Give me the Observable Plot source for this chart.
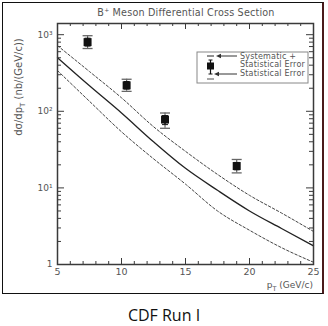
<!DOCTYPE html>
<html>
<head>
<meta charset="utf-8">
<script src="https://cdn.jsdelivr.net/npm/d3@7"></script>
<script src="https://cdn.jsdelivr.net/npm/@observablehq/plot@0.6"></script>
<style>
  html, body { margin: 0; padding: 0; background: #fff; }
  #wrap { position: relative; width: 328px; height: 326px; overflow: hidden; }
  #border { position: absolute; left: 2px; top: 2px; width: 319px; height: 290px;
            border: 1.5px solid #111; border-right: 2px solid #4a1a1a; pointer-events: none; }
  #caption { position: absolute; left: 0; top: 304px; width: 328px; text-align: center;
             font-family: "Open Sans", sans-serif; font-size: 16px; color: #111; }
  svg { position: absolute; left: 0; top: 0; }
</style>
</head>
<body>
<div id="wrap">
  <div id="chart"></div>
  <div id="border"></div>
  <div id="caption">CDF Run I</div>
</div>
<script>
// ---- data ----
const pT      = [7.35, 10.4, 13.4, 19.0];
const xsec    = [800, 218, 78, 19.3];
const sysHi   = [970, 262, 95, 23.5];
const sysLo   = [660, 182, 60, 15.7];
const statHi  = [900, 245, 88, 21.5];
const statLo  = [710, 195, 67, 17.2];

const curvePt = [5, 7.5, 10, 12.5, 15, 17.5, 20, 22.5, 25];
const central = [500, 215, 95, 40, 18, 9.3, 5, 2.95, 1.75];
const upper   = [720, 330, 150, 63, 30, 15, 8, 4.7, 2.7];
const lower   = [340, 135, 54, 24, 11.2, 5, 2.8, 1.66, 1.07];

const xMajor = [5, 10, 15, 20, 25];
const xMinor = [6,7,8,9,11,12,13,14,16,17,18,19,21,22,23,24];
const yMajor = [1, 10, 100, 1000];
const yTickLabels = ["1", "10\u00b9", "10\u00b2", "10\u00b3"];
const yMinor = [2,3,4,5,6,7,8,9,20,30,40,50,60,70,80,90,200,300,400,500,600,700,800,900];

// ---- build tables ----
const points = pT.map((p, i) => ({pt: p, v: xsec[i], sh: sysHi[i], sl: sysLo[i], th: statHi[i], tl: statLo[i]}));
const curves = [];
curvePt.forEach((p, i) => {
  curves.push({pt: p, v: central[i], k: "central"});
  curves.push({pt: p, v: upper[i], k: "upper"});
  curves.push({pt: p, v: lower[i], k: "lower"});
});

const W = 328, H = 296;
const mL = 57, mR = 15, mT = 23, mB = 32;
const fW = W - mL - mR, fH = H - mT - mB;
const ink = "#3a3a3a", txt = "#555";

const capSym = (w) => ({ draw(ctx, size) { ctx.moveTo(-w, 0); ctx.lineTo(w, 0); } });

const plot = Plot.plot({
  width: W, height: H,
  marginLeft: mL, marginRight: mR, marginTop: mT, marginBottom: mB,
  x: {type: "linear", domain: [5, 25], axis: null},
  y: {type: "log", domain: [1, 1400], axis: null},
  style: {fontFamily: "DejaVu Sans, sans-serif", background: "transparent"},
  marks: [
    // ticks inward on all sides
    Plot.ruleX(xMajor, {x: d => d, insetTop: fH - 6, stroke: ink, strokeWidth: 1}),
    Plot.ruleX(xMinor, {x: d => d, insetTop: fH - 3, stroke: ink, strokeWidth: 1}),
    Plot.ruleX(xMajor, {x: d => d, insetBottom: fH - 6, stroke: ink, strokeWidth: 1}),
    Plot.ruleX(xMinor, {x: d => d, insetBottom: fH - 3, stroke: ink, strokeWidth: 1}),
    Plot.ruleY(yMajor, {y: d => d, insetRight: fW - 7, stroke: ink, strokeWidth: 1}),
    Plot.ruleY(yMinor, {y: d => d, insetRight: fW - 4, stroke: ink, strokeWidth: 1}),
    Plot.ruleY(yMajor, {y: d => d, insetLeft: fW - 7, stroke: ink, strokeWidth: 1}),
    Plot.ruleY(yMinor, {y: d => d, insetLeft: fW - 4, stroke: ink, strokeWidth: 1}),
    // tick labels
    Plot.text(xMajor, {x: d => d, frameAnchor: "bottom", dy: 10, text: d => String(d),
      fill: txt, fontSize: 9.5}),
    Plot.text(yMajor, {y: d => d, frameAnchor: "left", dx: -5, textAnchor: "end",
      text: (d, i) => yTickLabels[i], fill: txt, fontSize: 9}),
    // theory curves
    Plot.line(curves.filter(d => d.k !== "central"), {x: "pt", y: "v", z: "k", curve: "monotone-x",
      stroke: "#444", strokeWidth: 1, strokeDasharray: "2.5,2"}),
    Plot.line(curves.filter(d => d.k === "central"), {x: "pt", y: "v", curve: "monotone-x",
      stroke: "#222", strokeWidth: 1.3}),
    // data: error bars
    Plot.ruleX(points, {x: "pt", y1: "sl", y2: "sh", stroke: "#666", strokeWidth: 1.2}),
    Plot.dot(points, {x: "pt", y: "sh", symbol: capSym(5), r: 5, stroke: "#666", strokeWidth: 1.3, fill: "none"}),
    Plot.dot(points, {x: "pt", y: "sl", symbol: capSym(5), r: 5, stroke: "#666", strokeWidth: 1.3, fill: "none"}),
    Plot.ruleX(points, {x: "pt", y1: "tl", y2: "th", stroke: "#111", strokeWidth: 1.3}),
    Plot.dot(points, {x: "pt", y: "th", symbol: capSym(3), r: 3, stroke: "#111", strokeWidth: 1, fill: "none"}),
    Plot.dot(points, {x: "pt", y: "tl", symbol: capSym(3), r: 3, stroke: "#111", strokeWidth: 1, fill: "none"}),
    Plot.dot(points, {x: "pt", y: "v", symbol: "square", r: 4.5, fill: "#111", stroke: "none"}),
    Plot.frame({stroke: ink, strokeWidth: 1.5})
  ]
});
document.getElementById("chart").appendChild(plot);

// ---- annotations (title, axis titles, legend) ----
const svg = d3.select(plot);
const ff = "DejaVu Sans, sans-serif";

const title = svg.append("text").attr("x", mL + fW / 2 + 1).attr("y", 16)
  .attr("text-anchor", "middle").attr("font-family", ff).attr("font-size", 9.6)
  .attr("letter-spacing", 0.2).attr("fill", txt);
title.append("tspan").text("B");
title.append("tspan").attr("font-size", 6).attr("dy", -4).text("+");
title.append("tspan").attr("dy", 4).text(" Meson Differential Cross Section");

const xl = svg.append("text").attr("x", mL + fW).attr("y", H - 8)
  .attr("text-anchor", "end").attr("font-family", ff).attr("font-size", 9).attr("fill", txt);
xl.append("tspan").text("p");
xl.append("tspan").attr("font-size", 6.5).attr("dy", 3).text("T");
xl.append("tspan").attr("dy", -3).text(" (GeV/c)");

const yl = svg.append("text").attr("transform", "translate(22,87) rotate(-90)")
  .attr("text-anchor", "middle").attr("font-family", ff).attr("font-size", 10).attr("fill", txt);
yl.append("tspan").text("d\u03c3/dp");
yl.append("tspan").attr("font-size", 7).attr("dy", 3).text("T");
yl.append("tspan").attr("dy", -3).text(" (nb/(GeV/c))");

// legend
const lg = svg.append("g");
lg.append("rect").attr("x", 197).attr("y", 52).attr("width", 111).attr("height", 31)
  .attr("fill", "#fff").attr("stroke", "#888").attr("stroke-width", 1);
const ltxt = [["Systematic +", 58.5], ["Statistical Error", 66.5], ["Statistical Error", 76]];
ltxt.forEach(([t, y]) => lg.append("text").attr("x", 240).attr("y", y).attr("font-family", ff)
  .attr("text-anchor", "start").attr("font-size", 8).attr("letter-spacing", 0.2)
  .attr("fill", txt).text(t));
// symbol
lg.append("line").attr("x1", 207).attr("x2", 214).attr("y1", 56).attr("y2", 56).attr("stroke", "#555").attr("stroke-width", 1.3);
lg.append("line").attr("x1", 210.5).attr("x2", 210.5).attr("y1", 60).attr("y2", 74).attr("stroke", "#111").attr("stroke-width", 1.2);
lg.append("line").attr("x1", 208.5).attr("x2", 212.5).attr("y1", 60).attr("y2", 60).attr("stroke", "#111");
lg.append("rect").attr("x", 207).attr("y", 62.5).attr("width", 7).attr("height", 7).attr("fill", "#111");
lg.append("line").attr("x1", 208.5).attr("x2", 212.5).attr("y1", 74).attr("y2", 74).attr("stroke", "#111");
lg.append("line").attr("x1", 207).attr("x2", 214).attr("y1", 79).attr("y2", 79).attr("stroke", "#777").attr("stroke-width", 1.3);
// arrows
[[56, 216], [74, 214]].forEach(([y, x]) => {
  lg.append("line").attr("x1", x + 3).attr("x2", 237).attr("y1", y).attr("y2", y).attr("stroke", "#333").attr("stroke-width", 1);
  lg.append("path").attr("d", `M${x},${y} l5,-2.2 l0,4.4 z`).attr("fill", "#333");
});
</script>
</body>
</html>
